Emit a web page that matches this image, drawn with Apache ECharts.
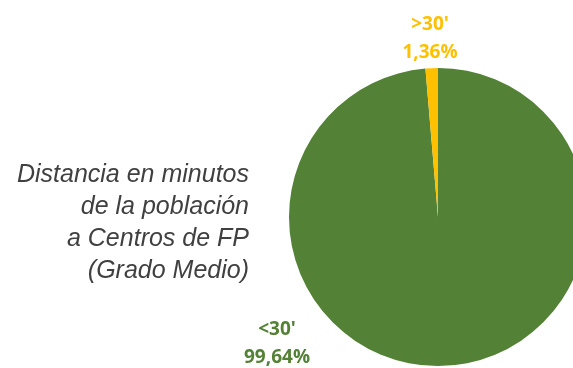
<!DOCTYPE html>
<html>
<head>
<meta charset="utf-8">
<script src="https://cdn.jsdelivr.net/npm/echarts@6/dist/echarts.min.js"></script>
<style>
  html, body { margin: 0; padding: 0; background: #ffffff; }
  #chart { width: 573px; height: 368px; }
</style>
</head>
<body>
<div id="chart"></div>
<script>
// Travel-time bands and share of population (%)
const categories = ["<30'", ">30'"];
const shares = [99.64, 1.36];
const sliceColors = ['#538135', '#FFC000'];
const titleLines = ['Distancia en minutos', 'de la población', 'a Centros de FP', '(Grado Medio)'];

// Label anchor per slice (canvas px)
const labelAnchors = [[277, 344], [430, 39]];

const chart = echarts.init(document.getElementById('chart'), null, { renderer: 'canvas' });

const fmt = v => v.toFixed(2).replace('.', ',') + '%';

chart.setOption({
  animation: false,
  graphic: [{
    type: 'text',
    x: 249,
    y: 159,
    style: {
      text: titleLines.join('\n'),
      font: 'italic 25px "Liberation Sans", Arial, sans-serif',
      fill: '#404040',
      align: 'right',
      verticalAlign: 'top',
      lineHeight: 32
    }
  }],
  series: [{
    type: 'pie',
    center: [438, 217],
    radius: 149,
    startAngle: 90,
    clockwise: true,
    silent: true,
    label: {
      show: true,
      position: 'outside',
      formatter: p => p.name + '\n' + fmt(p.value),
      fontFamily: '"Open Sans", sans-serif',
      fontWeight: 'bold',
      fontSize: 19,
      lineHeight: 28,
      align: 'center'
    },
    labelLine: { show: false },
    labelLayout: p => ({
      x: labelAnchors[p.dataIndex][0],
      y: labelAnchors[p.dataIndex][1],
      align: 'center',
      verticalAlign: 'middle'
    }),
    data: categories.map((c, i) => ({
      name: c,
      value: shares[i],
      itemStyle: { color: sliceColors[i] },
      label: { color: sliceColors[i] }
    }))
  }]
});
</script>
</body>
</html>
